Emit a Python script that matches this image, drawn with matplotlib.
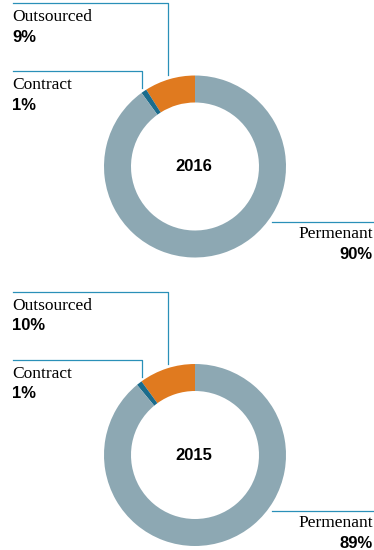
import matplotlib.pyplot as plt

# Workforce composition by year
years = ['2016', '2015']
categories = ['Outsourced', 'Contract', 'Permenant']
shares_2016 = [9, 1, 90]
shares_2015 = [10, 1, 89]

colors = ['#E07A1F', '#1B6C8C', '#8DA8B3']
line_color = '#2A90B8'

W, H = 374, 550
fig = plt.figure(figsize=(W / 100, H / 100), dpi=100)
ax = fig.add_axes([0, 0, 1, 1])

serif = 'Liberation Serif'
sans = 'Liberation Sans'


def donut(cy, shares, year, dy):
    # cy is the centre height measured from the top of the figure
    ax.pie(shares, colors=colors, startangle=90, counterclock=True,
           center=(195, H - cy), radius=91,
           wedgeprops=dict(width=27, linewidth=0))
    ax.text(194, H - cy, year, ha='center', va='center',
            fontsize=12, fontweight='bold', family=sans)

    # leader lines
    ax.plot([13, 168, 168], [H - (3 + dy), H - (3 + dy), H - (75 + dy)],
            color=line_color, lw=0.9)
    ax.plot([13, 142, 142], [H - (71 + dy), H - (71 + dy), H - (88 + dy)],
            color=line_color, lw=0.9)
    ax.plot([272, 374], [H - (222 + dy)] * 2, color=line_color, lw=0.9)

    # labels
    ax.text(12, H - (17 + dy), categories[0], ha='left', va='center',
            fontsize=12.5, family=serif)
    ax.text(12, H - (37 + dy), f'{shares[0]}%', ha='left', va='center',
            fontsize=12, fontweight='bold', family=sans)
    ax.text(12, H - (85 + dy), categories[1], ha='left', va='center',
            fontsize=12.5, family=serif)
    ax.text(12, H - (105 + dy), f'{shares[1]}%', ha='left', va='center',
            fontsize=12, fontweight='bold', family=sans)
    ax.text(373, H - (234 + dy), categories[2], ha='right', va='center',
            fontsize=12.5, family=serif)
    ax.text(373, H - (254.5 + dy), f'{shares[2]}%', ha='right', va='center',
            fontsize=12, fontweight='bold', family=sans)


donut(166.5, shares_2016, years[0], 0)
donut(455, shares_2015, years[1], 289)

ax.set_xlim(0, W)
ax.set_ylim(0, H)
ax.set_aspect('equal')
ax.axis('off')

fig.savefig('out.png', dpi=100)
